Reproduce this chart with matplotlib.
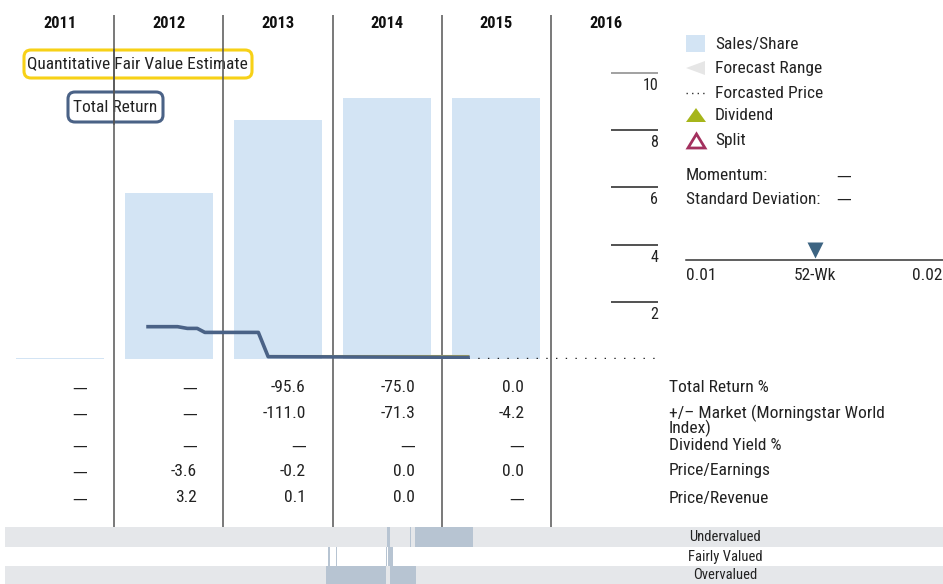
import matplotlib
matplotlib.use('Agg')
import matplotlib.pyplot as plt
from matplotlib import font_manager
from matplotlib.patches import FancyBboxPatch, Polygon, Rectangle

W, H = 943, 584

# pick a condensed font if one is installed
_names = {f.name for f in font_manager.fontManager.ttflist}
CANDIDATES = ['Roboto Condensed', 'Liberation Sans Narrow', 'Open Sans Condensed',
              'Noto Sans Condensed', 'DejaVu Sans Condensed']
chosen = [c for c in CANDIDATES if c in _names]
if chosen:
    FAMILY = [chosen[0], 'DejaVu Sans']
    SC = 1.0
else:
    FAMILY = ['Roboto', 'DejaVu Sans']
    SC = 0.84
plt.rcParams['font.family'] = FAMILY
DASH_FAMILY = ['DejaVu Sans']

# ---------------- data ----------------
years = [2011, 2012, 2013, 2014, 2015, 2016]
bar_years = [2011, 2012, 2013, 2014, 2015]
sales_share = [0.04, 5.80, 8.36, 9.13, 9.13]

tr_x = [2012.31, 2012.58, 2012.67, 2012.76, 2012.83, 2013.32, 2013.41, 2015.24]
tr_y = [1.13, 1.13, 1.07, 1.07, 0.93, 0.93, 0.08, 0.06]

qfv_x = [2013.41, 2015.24]
qfv_y = [0.10, 0.10]

fc_x = [2015.24, 2016.97]
fc_y = [0.02, 0.02]

y_ticks = [2, 4, 6, 8, 10]

row_labels = ['Total Return %', '+/\u2013 Market (Morningstar World\nIndex)',
              'Dividend Yield %', 'Price/Earnings', 'Price/Revenue']
table_years = [2011, 2012, 2013, 2014, 2015]
table_values = [
    ['\u2014', '\u2014', '-95.6', '-75.0', '0.0'],
    ['\u2014', '\u2014', '-111.0', '-71.3', '-4.2'],
    ['\u2014', '\u2014', '\u2014', '\u2014', '\u2014'],
    ['\u2014', '-3.6', '-0.2', '0.0', '0.0'],
    ['\u2014', '3.2', '0.1', '0.0', '\u2014'],
]

band_labels = ['Undervalued', 'Fairly Valued', 'Overvalued']
band_segments = [
    [(2014.50, 2014.53), (2014.71, 2014.72), (2014.75, 2015.29)],
    [(2013.96, 2013.98), (2014.03, 2014.04), (2014.49, 2014.50), (2014.51, 2014.55)],
    [(2013.94, 2014.49), (2014.53, 2014.76)],
]

# ---------------- layout helpers ----------------
PX_PER_YEAR = 109.2
X0 = 5
XMIN = 2011
XMAX = 2011 + (W - X0) / PX_PER_YEAR
TXT = '#222222'
FS = 12.5 * SC
FS_T = 12.6 * SC
FS_TICK = 11.5 * SC
FS_DASH = 10.5


def fig_rect(x0, y0, x1, y1):
    return [x0 / W, 1 - y1 / H, (x1 - x0) / W, (y1 - y0) / H]


def px2yr(px):
    return XMIN + (px - X0) / PX_PER_YEAR


def is_dash(s):
    return s == '\u2014'


fig = plt.figure(figsize=(W / 100, H / 100), dpi=100)

# overlay (pixel coords) for legend & side panel
ov = fig.add_axes([0, 0, 1, 1])
ov.set_xlim(0, W)
ov.set_ylim(H, 0)
ov.axis('off')

# vertical grid axes
gax = fig.add_axes(fig_rect(X0, 15, W, 527))
gax.set_xlim(XMIN, XMAX)
gax.set_ylim(0, 1)
gax.axis('off')
gax.patch.set_alpha(0)
for yr in years[1:]:
    gax.axvline(yr, color='#555555', lw=1.1, zorder=10)

# main chart axes
ZERO_PX = 359
UNIT = 28.6
ax = fig.add_axes(fig_rect(X0, 15, W, ZERO_PX))
ax.set_xlim(XMIN, XMAX)
ax.set_ylim(0, (ZERO_PX - 15) / UNIT)
ax.axis('off')
ax.patch.set_alpha(0)

ax.bar([y + 0.5 for y in bar_years], sales_share, width=0.806,
       color='#d3e4f4', zorder=1)
ax.plot(fc_x, fc_y, color='#222222', lw=1.0, ls=(0, (1, 6)), zorder=2)
ax.plot(qfv_x, qfv_y, color='#d9c640', lw=1.5, zorder=3)
ax.plot(tr_x, tr_y, color='#4a6286', lw=2.6, zorder=4, solid_joinstyle='round')

ax.hlines(y_ticks, 2016.55, 2016.98, colors=['#222222'] * 4 + ['#888888'], lw=1.1)
for t in y_ticks:
    ax.annotate(str(t), xy=(2016.98, t), xytext=(0, -5), textcoords='offset pixels',
                ha='right', va='top', fontsize=FS_TICK, color=TXT)

# year headers
for yr in years:
    fig.text((X0 + (yr - XMIN + 0.5) * PX_PER_YEAR) / W, 1 - 23 / H, str(yr),
             ha='center', va='center', fontsize=11.8 * SC, fontweight='bold', color='#111111')

# label boxes
ov.add_patch(FancyBboxPatch((24, 50), 228, 28, boxstyle='round,pad=0,rounding_size=7',
                            fc='white', ec='#f7d117', lw=2.2, zorder=5))
ov.text(137, 64, 'Quantitative Fair Value Estimate', ha='center', va='center',
        fontsize=FS, color=TXT, zorder=6)
ov.add_patch(FancyBboxPatch((68, 92), 95, 30, boxstyle='round,pad=0,rounding_size=7',
                            fc='none', ec='#4a6286', lw=2.2, zorder=5))
ov.text(115.5, 107, 'Total Return', ha='center', va='center', fontsize=FS,
        color=TXT, zorder=6)
# 2012 boundary line drawn over the label boxes
ov.plot([114.2, 114.2], [50, 124], color='#555555', lw=1.1, zorder=11)

# legend
ov.add_patch(Rectangle((686, 35), 19, 17, fc='#d3e4f4', ec='none'))
ov.add_patch(Polygon([(686, 68), (705, 61), (705, 75)], closed=True, fc='#e6e6e6', ec='none'))
ov.plot([686, 705], [93, 93], color='#333333', lw=1.0, ls=(0, (1, 3)))
ov.add_patch(Polygon([(686, 122), (706, 122), (696, 108)], closed=True, fc='#a6b51a', ec='none'))
ov.add_patch(Polygon([(688, 148), (705, 148), (696.5, 134)], closed=True, fc='none',
                     ec='#a3305e', lw=2.0))
leg_items = ['Sales/Share', 'Forecast Range', 'Forcasted Price', 'Dividend', 'Split']
leg_y = [44, 69, 93, 116, 141]
for lab, yy in zip(leg_items, leg_y):
    ov.text(715, yy, lab, ha='left', va='center', fontsize=FS, color=TXT)

ov.text(686, 176, 'Momentum:', ha='left', va='center', fontsize=FS, color=TXT)
ov.text(836, 176, '\u2014', ha='left', va='center', fontsize=FS_DASH, color=TXT,
        family=DASH_FAMILY)
ov.text(686, 199, 'Standard Deviation:', ha='left', va='center', fontsize=FS, color=TXT)
ov.text(836, 199, '\u2014', ha='left', va='center', fontsize=FS_DASH, color=TXT,
        family=DASH_FAMILY)

# 52-week range
ov.plot([686, W], [260, 260], color='#333333', lw=1.1)
ov.plot([815], [250], marker='v', ms=12, color='#3d6482', mec='none')
ov.text(686, 275, '0.01', ha='left', va='center', fontsize=FS, color=TXT)
ov.text(815, 275, '52-Wk', ha='center', va='center', fontsize=FS, color=TXT)
ov.text(942, 275, '0.02', ha='right', va='center', fontsize=FS, color=TXT)

# table
tax = fig.add_axes(fig_rect(X0, ZERO_PX, W, 527))
tax.set_xlim(XMIN, XMAX)
tax.set_ylim(527, ZERO_PX)
tax.axis('off')
tax.patch.set_alpha(0)
row_y = [387, 413, 445, 471, 498]
LAB_X = px2yr(669)
for r, (lab, yy) in enumerate(zip(row_labels, row_y)):
    for c, yr in enumerate(table_years):
        v = table_values[r][c]
        if is_dash(v):
            tax.text(yr + 1 - 0.245, yy + 1, v, ha='right', va='center',
                     fontsize=FS_DASH, color=TXT, family=DASH_FAMILY)
        else:
            tax.text(yr + 1 - 0.245, yy, v, ha='right', va='center',
                     fontsize=FS_T, color=TXT)
    if '\n' in lab:
        tax.text(LAB_X, yy - 8, lab, ha='left', va='top', fontsize=FS_T, color=TXT,
                 linespacing=0.82)
    else:
        tax.text(LAB_X, yy, lab, ha='left', va='center', fontsize=FS_T, color=TXT)

# valuation bands
band_px = [(527, 547), (547, 566), (566, 584)]
band_bg = ['#e5e7ea', 'white', '#e5e7ea']
bax = fig.add_axes(fig_rect(X0, 527, W, 584))
bax.set_xlim(XMIN, XMAX)
bax.set_ylim(584, 527)
bax.axis('off')
for (y0, y1), bg, lab, segs in zip(band_px, band_bg, band_labels, band_segments):
    bax.add_patch(Rectangle((XMIN, y0), XMAX - XMIN, y1 - y0, fc=bg, ec='none'))
    for s, e in segs:
        bax.add_patch(Rectangle((s, y0), e - s, y1 - y0, fc='#b7c4d2', ec='none'))
    bax.text(px2yr(725), (y0 + y1) / 2, lab, ha='center',
             va='center', fontsize=10.5 * SC, color=TXT)

fig.savefig('out.png', dpi=100)
